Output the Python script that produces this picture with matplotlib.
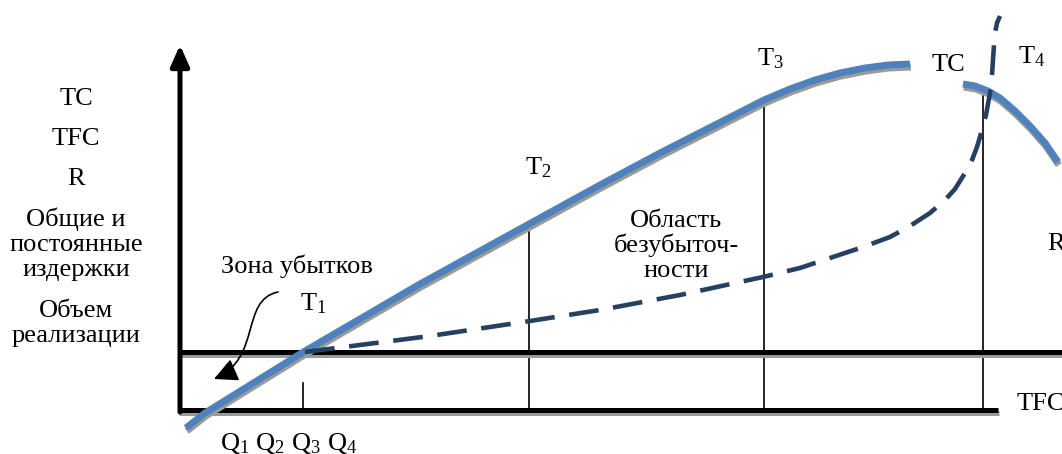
import matplotlib.pyplot as plt
import matplotlib.patheffects as pe
from matplotlib.patches import FancyArrowPatch
from matplotlib.path import Path

plt.rcParams['font.family'] = 'Liberation Serif'
plt.rcParams['mathtext.fontset'] = 'custom'
plt.rcParams['mathtext.rm'] = 'Liberation Serif'
plt.rcParams['mathtext.it'] = 'Liberation Serif'

# Revenue curve R (pixel coordinates), split by the TC label
rev_left_x = [186, 205, 305, 420, 540, 600, 660, 715, 764, 790, 815, 840, 865, 888, 910]
rev_left_y = [428, 413, 351, 284, 218, 185, 153, 125, 100, 89, 80, 73, 68, 65, 64]
rev_right_x = [963, 975, 988, 1000, 1015, 1030, 1045, 1058]
rev_right_y = [84, 86, 91, 98, 111, 126, 143, 162]

# Total cost curve TC (dashed)
tc_x = [305, 360, 430, 530, 600, 680, 763, 800, 827, 863, 890, 910, 930, 945, 955,
        965, 972, 977, 982, 986, 990, 992, 993, 994, 995, 997, 1000]
tc_y = [352, 345, 336, 321, 310, 295, 277, 268, 259, 247, 237, 226, 213, 200, 189,
        173, 160, 147, 130, 115, 93, 75, 60, 45, 33, 23, 16]

# Break-even points T1..T4: x position and top of the drop line
drop_x = [303, 529, 764, 983]
drop_top = [383, 225, 100, 92]

# Axes / fixed cost level
y_axis_x = 180
y_axis_top = 45
base_y = 410
base_x_end = 998
tfc_y = 352

left_labels = ['TC', 'TFC', 'R', 'Общие и', 'постоянные', 'издержки', 'Объем', 'реализации']
left_label_base = [105, 145, 185, 226, 251, 276, 317, 342]

blue = '#4F81BD'
navy = '#254061'
fs = 19

fig = plt.figure(figsize=(10.62, 4.54), dpi=100)
ax = fig.add_axes([0, 0, 1, 1])
ax.set_xlim(0, 1062)
ax.set_ylim(454, 0)
ax.axis('off')

shadow = [pe.SimpleLineShadow(offset=(0.6, -2.2), shadow_color='#9a9a9a', alpha=1), pe.Normal()]

# axes lines
ax.plot([178, base_x_end], [base_y, base_y], color='black', lw=3.6,
        solid_capstyle='butt', path_effects=shadow, zorder=3)
ax.plot([178, 1062], [tfc_y, tfc_y], color='black', lw=3.6,
        solid_capstyle='butt', path_effects=shadow, zorder=3)
ax.annotate('', xy=(y_axis_x, y_axis_top), xytext=(y_axis_x, base_y + 2),
            arrowprops=dict(arrowstyle='-|>,head_length=0.9,head_width=0.4', lw=3.6,
                            color='black', shrinkA=0, shrinkB=0, mutation_scale=14),
            zorder=3)

# drop lines
for x, top in zip(drop_x, drop_top):
    ax.plot([x, x], [top, base_y], color='black', lw=1.2, zorder=2)

# revenue curve
for xs, ys in [(rev_left_x, rev_left_y), (rev_right_x, rev_right_y)]:
    ax.plot(xs, ys, color=blue, lw=5, solid_capstyle='butt', solid_joinstyle='round',
            path_effects=shadow, zorder=4)

# total cost curve
ax.plot(tc_x, tc_y, color=navy, lw=3.3, dashes=(6.5, 3.2), dash_capstyle='butt',
        dash_joinstyle='round', zorder=5)

# curved arrow to the loss zone
verts = [(278, 292), (240, 300), (262, 358), (214, 379)]
arr = FancyArrowPatch(path=Path(verts, [Path.MOVETO, Path.CURVE4, Path.CURVE4, Path.CURVE4]),
                      arrowstyle='-|>,head_length=0.9,head_width=0.45', mutation_scale=16,
                      lw=1.2, color='black', zorder=6)
ax.add_patch(arr)

# texts
for t, y in zip(left_labels, left_label_base):
    ax.text(76, y, t, fontsize=fs, ha='center', va='baseline')

ax.text(297, 273, 'Зона убытков', fontsize=fs, ha='center', va='baseline')
ax.text(300, 310, r'$\mathrm{T}_1$', fontsize=fs, ha='left', va='baseline')
ax.text(525, 174, r'$\mathrm{T}_2$', fontsize=fs, ha='left', va='baseline')
ax.text(757, 65, r'$\mathrm{T}_3$', fontsize=fs, ha='left', va='baseline')
ax.text(1018, 63, r'$\mathrm{T}_4$', fontsize=fs, ha='left', va='baseline')
ax.text(932, 71, 'TC', fontsize=fs, ha='left', va='baseline')
ax.text(1047, 250, 'R', fontsize=fs, ha='left', va='baseline')
ax.text(1017, 410, 'TFC', fontsize=fs, ha='left', va='baseline')
ax.text(676, 227, 'Область', fontsize=fs, ha='center', va='baseline')
ax.text(676, 252, 'безубыточ-', fontsize=fs, ha='center', va='baseline')
ax.text(676, 277, 'ности', fontsize=fs, ha='center', va='baseline')
ax.text(220, 450, r'$\mathrm{Q}_1$ $\mathrm{Q}_2$ $\mathrm{Q}_3$ $\mathrm{Q}_4$',
        fontsize=fs, ha='left', va='baseline')

fig.savefig('out.png', dpi=100)
